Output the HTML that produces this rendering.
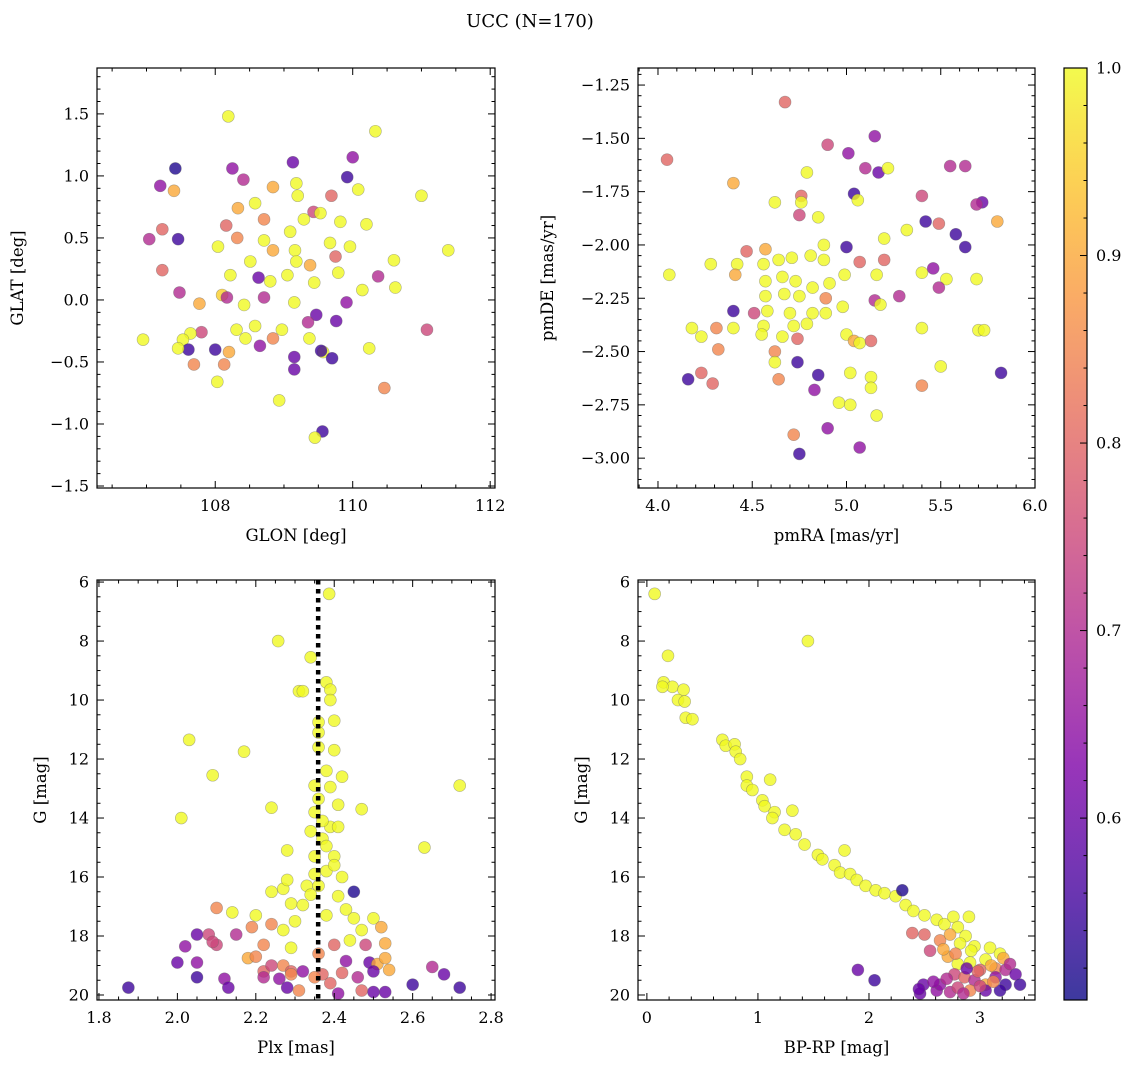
<!DOCTYPE html>
<html><head><meta charset="utf-8"><style>
body{margin:0;background:#fff}
svg{display:block;font-family:"DejaVu Serif","Liberation Serif",serif}
</style></head><body>
<svg id="fig" width="1136" height="1067" viewBox="0 0 1136 1067">
<text x="530" y="27" font-size="18" text-anchor="middle">UCC (N=170)</text>
</svg>
<script>
// Panel 1: GLON / GLAT / membership probability
const p1Lon=[108.19,109.13,110.33,107.42,107.2,108.25,110.0,109.92,107.4,109.18,109.2,108.84,108.41,109.69,110.08,111.0,107.23,107.04,107.46,107.23,111.39,110.6,110.2,109.96,109.67,109.43,108.71,108.16,108.33,109.29,109.53,109.82,108.58,109.09,108.71,108.32,108.04,108.84,109.16,109.38,109.75,109.18,108.51,108.22,108.63,108.8,109.05,109.44,109.79,110.14,110.37,110.62,108.1,107.77,107.48,108.42,108.71,109.15,109.47,109.91,108.17,107.8,107.64,107.53,106.95,108.31,108.58,108.97,109.35,109.76,111.08,107.61,108.0,108.2,108.44,108.65,108.84,109.37,109.57,110.24,107.46,107.69,108.13,108.03,109.15,109.15,109.54,109.7,110.46,108.93,109.56,109.45];
const p1Lat=[1.48,1.11,1.36,1.06,0.92,1.06,1.15,0.99,0.88,0.94,0.84,0.91,0.97,0.84,0.89,0.84,0.57,0.49,0.49,0.24,0.40,0.32,0.61,0.43,0.46,0.71,0.65,0.6,0.74,0.65,0.7,0.63,0.78,0.55,0.48,0.5,0.43,0.40,0.4,0.28,0.35,0.31,0.31,0.2,0.18,0.15,0.2,0.14,0.22,0.08,0.19,0.1,0.04,-0.03,0.06,-0.04,0.02,-0.02,-0.12,-0.02,0.02,-0.26,-0.27,-0.32,-0.32,-0.24,-0.21,-0.24,-0.18,-0.17,-0.24,-0.4,-0.4,-0.42,-0.31,-0.37,-0.31,-0.31,-0.42,-0.39,-0.39,-0.52,-0.52,-0.66,-0.46,-0.56,-0.41,-0.47,-0.71,-0.81,-1.06,-1.11];
const p1Prob=[1,0.6,1,0.52,0.65,0.65,0.65,0.55,0.9,1,1,0.9,0.7,0.8,1,1,0.8,0.7,0.55,0.8,1,1,1,1,1,0.75,0.85,0.8,0.9,1,1,1,1,1,1,0.85,1,0.9,1,0.9,0.8,1,1,1,0.6,1,1,1,1,1,0.7,1,0.95,0.9,0.7,1,0.7,1,0.6,0.65,0.7,0.75,1,1,1,1,1,1,0.7,0.6,0.75,0.55,0.55,0.9,1,0.65,0.85,1,1,1,1,0.85,0.85,1,0.6,0.6,0.55,0.55,0.85,1,0.55,1];
// Panel 2: pmRA / pmDE
const p2RA=[4.674,4.048,5.01,5.15,4.9,5.1,5.17,5.22,4.79,5.55,5.63,4.4,4.76,5.4,5.04,4.62,4.76,5.06,5.72,5.69,5.8,5.42,5.49,4.75,4.85,5.32,5.58,5.63,5.2,5.0,4.06,4.28,4.47,4.57,4.42,4.56,4.64,4.71,4.81,4.88,4.88,5.07,5.2,5.4,5.46,5.69,5.53,4.41,4.57,4.66,4.73,4.82,4.91,4.99,5.16,5.28,5.15,5.49,4.57,4.67,4.75,4.89,4.98,5.18,4.4,4.58,4.51,4.7,4.82,4.89,4.56,4.72,4.79,5.4,4.18,4.4,4.31,4.23,4.55,4.66,4.74,5.0,5.04,5.07,5.13,5.7,5.73,4.62,4.32,4.62,4.74,5.02,5.13,4.85,5.5,5.82,4.23,4.64,4.16,4.29,5.13,5.4,4.83,4.96,5.02,5.16,4.72,4.9,5.07,4.75];
const p2DE=[-1.33,-1.60,-1.57,-1.49,-1.53,-1.64,-1.66,-1.64,-1.66,-1.63,-1.63,-1.71,-1.77,-1.77,-1.76,-1.80,-1.80,-1.79,-1.80,-1.81,-1.89,-1.89,-1.90,-1.86,-1.87,-1.93,-1.95,-2.01,-1.97,-2.01,-2.14,-2.09,-2.03,-2.02,-2.09,-2.09,-2.07,-2.06,-2.05,-2.0,-2.07,-2.08,-2.07,-2.13,-2.11,-2.16,-2.16,-2.14,-2.17,-2.15,-2.17,-2.2,-2.18,-2.14,-2.14,-2.24,-2.26,-2.2,-2.24,-2.23,-2.24,-2.25,-2.29,-2.28,-2.31,-2.31,-2.32,-2.32,-2.32,-2.32,-2.38,-2.38,-2.37,-2.39,-2.39,-2.39,-2.39,-2.43,-2.42,-2.43,-2.44,-2.42,-2.45,-2.46,-2.45,-2.4,-2.4,-2.5,-2.49,-2.55,-2.55,-2.6,-2.62,-2.61,-2.57,-2.6,-2.6,-2.63,-2.63,-2.65,-2.67,-2.66,-2.68,-2.74,-2.75,-2.8,-2.89,-2.86,-2.95,-2.98];
const p2Prob=[0.8,0.8,0.65,0.65,0.75,0.7,0.6,1,1,0.7,0.7,0.9,0.8,0.75,0.55,1,1,1,0.6,0.7,0.9,0.55,0.8,0.75,1,1,0.55,0.55,1,0.55,1,1,0.8,0.9,1,1,1,1,1,1,1,0.8,0.8,1,0.65,1,1,0.9,1,1,1,1,1,1,1,0.7,0.7,0.7,1,1,1,0.85,1,1,0.55,1,0.75,1,1,1,1,1,1,1,1,1,0.85,1,1,1,0.8,1,0.9,1,0.8,1,1,0.85,0.85,1,0.55,1,1,0.55,1,0.55,0.8,0.85,0.55,0.8,1,0.85,0.65,1,1,1,0.85,0.65,0.65,0.55];
// Panel 3: Plx / G
const p3Plx=[2.387,2.257,2.34,2.31,2.38,2.39,2.32,2.36,2.4,2.39,2.36,2.4,2.38,2.42,2.39,2.36,2.41,2.35,2.39,2.34,2.37,2.41,2.38,2.35,2.4,2.35,2.38,2.33,2.36,2.42,2.45,2.24,2.27,2.29,2.32,2.41,2.43,2.28,2.47,2.03,2.01,2.09,2.17,2.24,2.28,2.72,2.63,2.1,2.14,2.2,2.27,2.19,2.24,2.3,2.45,2.47,2.5,2.52,2.53,2.48,2.44,2.4,2.29,2.22,2.18,2.2,2.15,2.08,2.1,2.09,2.05,2.02,2.05,2.0,2.22,2.24,2.27,2.29,2.32,2.37,2.42,2.43,2.49,2.51,2.53,2.54,2.5,2.46,2.22,2.26,2.29,2.35,2.05,2.12,2.65,2.68,2.6,2.72,1.875,2.13,2.28,2.31,2.5,2.53,2.41,2.47,2.36,2.35,2.37,2.4,2.34,2.38,2.36,2.39];
const p3G=[6.4,8.0,8.55,9.7,9.4,9.65,9.7,10.75,10.7,10.0,11.6,11.7,12.4,12.6,12.95,13.35,13.55,13.8,14.3,14.45,14.7,14.3,14.95,15.3,15.3,15.9,15.8,16.3,16.3,16.0,16.5,16.5,16.4,16.9,16.95,16.65,17.1,16.1,13.7,11.35,14.0,12.55,11.75,13.65,15.1,12.9,15.0,17.05,17.2,17.3,17.8,17.7,17.6,17.5,17.4,17.8,17.4,17.7,18.25,18.3,18.15,18.3,18.4,18.3,18.75,18.7,17.95,17.95,18.3,18.2,17.95,18.35,18.9,18.9,19.2,19.0,19.0,19.2,19.2,19.3,19.25,18.85,18.9,18.95,18.75,19.15,19.2,19.4,19.4,19.45,19.3,19.4,19.4,19.45,19.05,19.3,19.65,19.75,19.75,19.75,19.75,19.85,19.9,19.9,19.95,19.85,11.1,12.9,14.1,15.6,16.6,17.3,18.6,19.6];
const p3Prob=[1,1,1,1,1,1,1,1,1,1,1,1,1,1,1,1,1,1,1,1,1,1,1,1,1,1,1,1,1,1,0.52,1,1,1,1,1,1,1,1,1,1,1,1,1,1,1,1,0.85,1,1,1,0.85,0.85,1,1,1,1,0.9,0.9,0.75,1,0.8,1,0.85,0.9,0.85,0.7,0.75,0.75,0.75,0.6,0.65,0.65,0.6,0.8,0.75,0.85,0.8,0.65,0.8,0.8,0.65,0.6,0.9,0.9,0.9,0.6,0.7,0.7,0.65,0.85,0.85,0.55,0.65,0.7,0.6,0.55,0.55,0.55,0.6,0.6,0.85,0.6,0.6,0.65,0.8,1,1,1,1,1,1,0.85,0.8];
const plxMean=2.359;
// Panel 4: BP-RP / G
const p4Col=[0.07,0.19,0.15,0.23,0.14,0.33,0.28,0.34,0.35,0.41,1.45,0.68,0.71,0.79,0.8,0.84,0.9,0.9,0.95,1.11,1.04,1.06,1.15,1.31,1.13,1.24,1.34,1.42,1.54,1.58,1.69,1.78,1.74,1.83,1.89,1.97,2.06,2.14,2.24,2.3,2.33,2.4,2.5,2.61,2.68,2.76,2.9,2.8,2.87,2.82,2.95,3.09,3.18,3.05,2.91,2.8,2.39,2.5,2.64,2.73,2.71,3.0,3.14,3.23,3.32,3.14,3.23,3.36,2.77,2.86,2.95,3.05,1.9,2.05,2.49,2.61,2.73,2.8,2.91,3.05,3.18,2.64,2.46,2.85,3.21,3.27,2.55,2.67,2.78,2.92,3.1,2.98,2.7,2.58,3.0,3.12,2.88,2.45];
const p4G=[6.4,8.5,9.4,9.55,9.55,9.65,10.0,10.05,10.6,10.65,8.0,11.35,11.55,11.5,11.75,12.0,12.6,12.9,13.05,12.7,13.4,13.6,13.8,13.75,14.0,14.4,14.55,14.9,15.25,15.4,15.6,15.1,15.85,15.9,16.1,16.3,16.45,16.55,16.65,16.45,16.95,17.15,17.3,17.45,17.6,17.35,17.35,17.7,18.0,18.25,18.35,18.4,18.6,18.8,18.9,18.95,17.9,17.95,18.15,17.95,18.7,19.15,19.1,19.15,19.3,19.4,19.65,19.65,19.3,19.4,19.5,19.65,19.15,19.5,19.65,19.85,19.9,19.75,19.85,19.85,19.85,19.65,19.95,19.95,18.75,18.95,18.5,18.45,18.6,18.5,19.0,19.2,19.45,19.55,19.7,19.55,19.1,19.8];
const p4Prob=[1,1,1,1,1,1,1,1,1,1,1,1,1,1,1,1,1,1,1,1,1,1,1,1,1,1,1,1,1,1,1,1,1,1,1,1,1,1,1,0.52,1,1,1,1,1,1,1,1,1,1,1,1,1,1,1,1,0.8,0.8,0.85,0.9,0.9,0.8,0.85,0.7,0.6,0.65,0.55,0.55,0.75,0.8,0.7,0.9,0.6,0.55,0.6,0.65,0.7,0.75,0.85,0.6,0.55,0.65,0.6,0.7,0.9,0.7,0.75,0.9,0.85,1,0.9,0.8,0.7,0.65,0.75,0.85,0.6,0.6];
const cbTicks=[0.6,0.7,0.8,0.9,1.0];

const NS='http://www.w3.org/2000/svg';
const svg=document.getElementById('fig');
const CMIN=0.503,CMAX=1.0;
const stops=[[0,[13,8,135]],[0.125,[75,3,161]],[0.25,[126,3,168]],[0.375,[170,35,149]],[0.5,[204,71,120]],[0.625,[230,108,92]],[0.75,[248,149,64]],[0.875,[253,195,40]],[1,[240,249,33]]];
function cmap(v){let t=(v-CMIN)/(CMAX-CMIN);t=Math.max(0,Math.min(1,t));
 for(let i=1;i<stops.length;i++){if(t<=stops[i][0]){const a=stops[i-1],b=stops[i];const f=(t-a[0])/(b[0]-a[0]);
 return 'rgb('+a[1].map((c,k)=>Math.round(c+(b[1][k]-c)*f)).join(',')+')';}}return 'rgb(240,249,33)';}
function el(tag,attrs,parent){const e=document.createElementNS(NS,tag);for(const k in attrs)e.setAttribute(k,attrs[k]);(parent||svg).appendChild(e);return e;}
function fmt(v,d){const s=Math.abs(v).toFixed(d);return (v<-1e-9?'\u2212':'')+s;}

function panel(o){
 const g=el('g',{});
 
 
 const sx=v=>o.x0+(v-o.xd[0])/(o.xd[1]-o.xd[0])*(o.x1-o.x0);
 const sy=o.inv?(v=>o.y0+(v-o.yd[0])/(o.yd[1]-o.yd[0])*(o.y1-o.y0)):(v=>o.y1-(v-o.yd[0])/(o.yd[1]-o.yd[0])*(o.y1-o.y0));
 for(let i=0;i<o.xs.length;i++){
  const c=el('circle',{cx:sx(o.xs[i]),cy:sy(o.ys[i]),r:6,fill:cmap(o.cs[i]),'fill-opacity':0.8,stroke:'#666','stroke-opacity':0.5,'stroke-width':0.6},g);
  
  
 }
 if(o.extra)o.extra(g,sx,sy);
 const f=el('rect',{x:o.x0,y:o.y0,width:o.x1-o.x0,height:o.y1-o.y0,fill:'none',stroke:'#000','stroke-width':1.2},g);
 
 
 const eps=1e-9;
 const xmin=Math.min(...o.xd),xmax=Math.max(...o.xd);
 for(let v=Math.ceil(xmin/o.xmi-eps)*o.xmi;v<=xmax+eps;v+=o.xmi){
  const isMaj=Math.abs(v/o.xma-Math.round(v/o.xma))<1e-6;const L=isMaj?7:3.5;const x=sx(v);
  el('line',{x1:x,x2:x,y1:o.y1,y2:o.y1-L,stroke:'#000','stroke-width':1},g);
  el('line',{x1:x,x2:x,y1:o.y0,y2:o.y0+L,stroke:'#000','stroke-width':1},g);
  if(isMaj){const t=el('text',{x:x,y:o.y1+23,'font-size':16,'text-anchor':'middle'},g);t.textContent=fmt(v,o.xdec);
   }
 }
 const ymin=Math.min(...o.yd),ymax=Math.max(...o.yd);
 for(let v=Math.ceil(ymin/o.ymi-eps)*o.ymi;v<=ymax+eps;v+=o.ymi){
  const isMaj=Math.abs(v/o.yma-Math.round(v/o.yma))<1e-6;const L=isMaj?7:3.5;const y=sy(v);
  el('line',{x1:o.x0,x2:o.x0+L,y1:y,y2:y,stroke:'#000','stroke-width':1},g);
  el('line',{x1:o.x1,x2:o.x1-L,y1:y,y2:y,stroke:'#000','stroke-width':1},g);
  if(isMaj){const t=el('text',{x:o.x0-8,y:y+5.5,'font-size':16,'text-anchor':'end'},g);t.textContent=fmt(v,o.ydec);
   }
 }
 const xl=el('text',{x:(o.x0+o.x1)/2,y:o.y1+53,'font-size':16.5,'text-anchor':'middle'},g);xl.textContent=o.xlab;
 
 const yx=o.ylx,yy=(o.y0+o.y1)/2;
 const yl=el('text',{x:yx,y:yy,'font-size':16.5,'text-anchor':'middle',transform:'rotate(-90 '+yx+' '+yy+')'},g);yl.textContent=o.ylab;
 
}

panel({name:'glon-glat-panel',x0:97,x1:495,y0:68,y1:488,xd:[106.28,112.07],yd:[-1.516,1.87],xs:p1Lon,ys:p1Lat,cs:p1Prob,xma:2,xmi:0.5,yma:0.5,ymi:0.1,xdec:0,ydec:1,xlab:'GLON [deg]',ylab:'GLAT [deg]',ylx:23});
panel({name:'proper-motion-panel',x0:638,x1:1035,y0:68,y1:488,xd:[3.894,6.0],yd:[-3.14,-1.17],xs:p2RA,ys:p2DE,cs:p2Prob,xma:0.5,xmi:0.1,yma:0.25,ymi:0.05,xdec:1,ydec:2,xlab:'pmRA [mas/yr]',ylab:'pmDE [mas/yr]',ylx:553});
panel({name:'parallax-panel',x0:97,x1:495,y0:580,y1:1000,xd:[1.795,2.81],yd:[5.93,20.17],inv:true,xs:p3Plx,ys:p3G,cs:p3Prob,xma:0.2,xmi:0.05,yma:2,ymi:0.5,xdec:1,ydec:0,xlab:'Plx [mas]',ylab:'G [mag]',ylx:46,
 extra:(g,sx,sy)=>{const l=el('line',{x1:sx(plxMean),x2:sx(plxMean),y1:580,y2:1000,stroke:'#000','stroke-width':4.5,'stroke-dasharray':'4.5 4.5'},g);
  }});
panel({name:'cmd-panel',x0:638,x1:1035,y0:580,y1:1000,xd:[-0.08,3.495],yd:[5.93,20.17],inv:true,xs:p4Col,ys:p4G,cs:p4Prob,xma:1,xmi:0.2,yma:2,ymi:0.5,xdec:0,ydec:0,xlab:'BP-RP [mag]',ylab:'G [mag]',ylx:587});

const cb=el('g',{});


const defs=el('defs',{},cb);
const lg=el('linearGradient',{id:'cbg',x1:0,y1:1,x2:0,y2:0},defs);
for(let i=0;i<=20;i++){const t=i/20;el('stop',{offset:t,'stop-color':cmap(CMIN+t*(CMAX-CMIN)),'stop-opacity':0.8},lg);}
el('rect',{x:1064,y:68,width:23,height:932,fill:'url(#cbg)',stroke:'#000','stroke-width':1.2},cb);
const cy=v=>1000-(v-CMIN)/(CMAX-CMIN)*932;
for(let v=0.52;v<=1.0001;v+=0.02){const y=cy(v);const maj=cbTicks.some(t=>Math.abs(t-v)<1e-6);
 el('line',{x1:1087,x2:1087-(maj?7:3.5),y1:y,y2:y,stroke:'#000','stroke-width':1},cb);}
cbTicks.forEach(v=>{const t=el('text',{x:1096,y:cy(v)+5.5,'font-size':16},cb);t.textContent=v.toFixed(1);
 });
</script>
</body></html>
